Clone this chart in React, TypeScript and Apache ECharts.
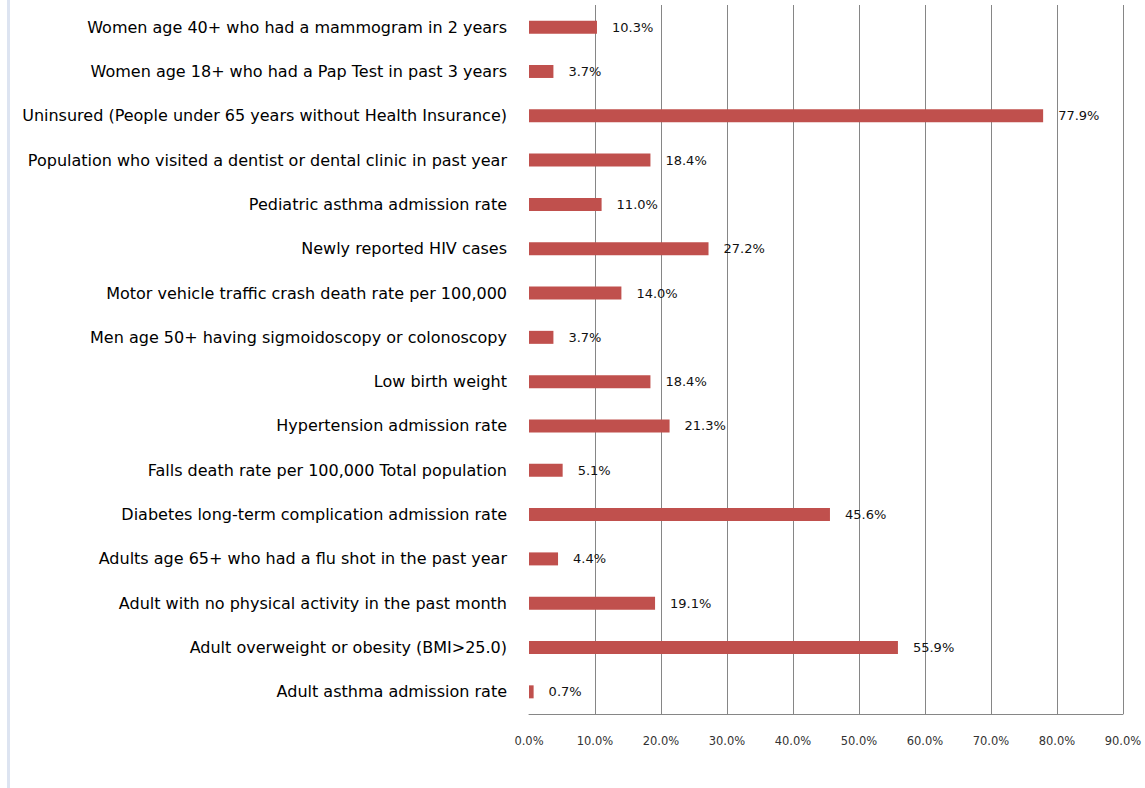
import React, { useEffect, useRef } from "react";
import * as echarts from "echarts";

const categories = [
  "Women age 40+ who had a mammogram in 2 years",
  "Women age 18+ who had a Pap Test in past 3 years",
  "Uninsured (People under 65 years without Health Insurance)",
  "Population who visited a dentist or dental clinic in past year",
  "Pediatric asthma admission rate",
  "Newly reported HIV cases",
  "Motor vehicle traffic crash death rate per 100,000",
  "Men age 50+ having sigmoidoscopy or colonoscopy",
  "Low birth weight",
  "Hypertension admission rate",
  "Falls death rate per 100,000 Total population",
  "Diabetes long-term complication admission rate",
  "Adults age 65+ who had a flu shot in the past year",
  "Adult with no physical activity in the past month",
  "Adult overweight or obesity (BMI>25.0)",
  "Adult asthma admission rate",
];

const values = [10.3, 3.7, 77.9, 18.4, 11.0, 27.2, 14.0, 3.7, 18.4, 21.3, 5.1, 45.6, 4.4, 19.1, 55.9, 0.7];

const xMin = 0;
const xMax = 90;
const xInterval = 10;

export default function App() {
  const ref = useRef<HTMLDivElement>(null);
  useEffect(() => {
    document.body.style.margin = "0";
    const chart = echarts.init(ref.current!, undefined, { renderer: "svg" });
    chart.setOption({
      animation: false,
      backgroundColor: "#ffffff",
      graphic: [
        { type: "rect", shape: { x: 7, y: 0, width: 3, height: 788 }, style: { fill: "#dde4f1" }, silent: true },
      ],
      grid: { left: 529, right: 22, top: 5, bottom: 74, containLabel: false },
      xAxis: {
        type: "value",
        min: xMin,
        max: xMax,
        interval: xInterval,
        axisLine: { show: true, lineStyle: { color: "#868686", width: 1 } },
        axisTick: { show: false },
        splitLine: { show: true, showMinLine: false, lineStyle: { color: "#868686", width: 1 } },
        axisLabel: {
          formatter: (v: number) => v.toFixed(1) + "%",
          color: "#333333",
          fontSize: 11.5,
          fontFamily: "DejaVu Sans",
          margin: 21,
        },
      },
      yAxis: {
        type: "category",
        data: categories,
        inverse: true,
        axisLine: { show: false },
        axisTick: { show: false },
        splitLine: { show: false },
        axisLabel: {
          color: "#000000",
          fontSize: 16,
          fontFamily: "DejaVu Sans",
          margin: 22,
          padding: [5, 0, 0, 0],
        },
      },
      series: [
        {
          type: "bar",
          data: values,
          barWidth: 13,
          itemStyle: { color: "#c0504d" },
          label: {
            show: true,
            position: "right",
            distance: 15,
            padding: [3, 0, 0, 0],
            formatter: (p: any) => Number(p.value).toFixed(1) + "%",
            color: "#111111",
            fontSize: 13,
            fontFamily: "DejaVu Sans",
          },
        },
      ],
    });
    return () => chart.dispose();
  }, []);
  return <div ref={ref} style={{ width: 1145, height: 788 }} />;
}
